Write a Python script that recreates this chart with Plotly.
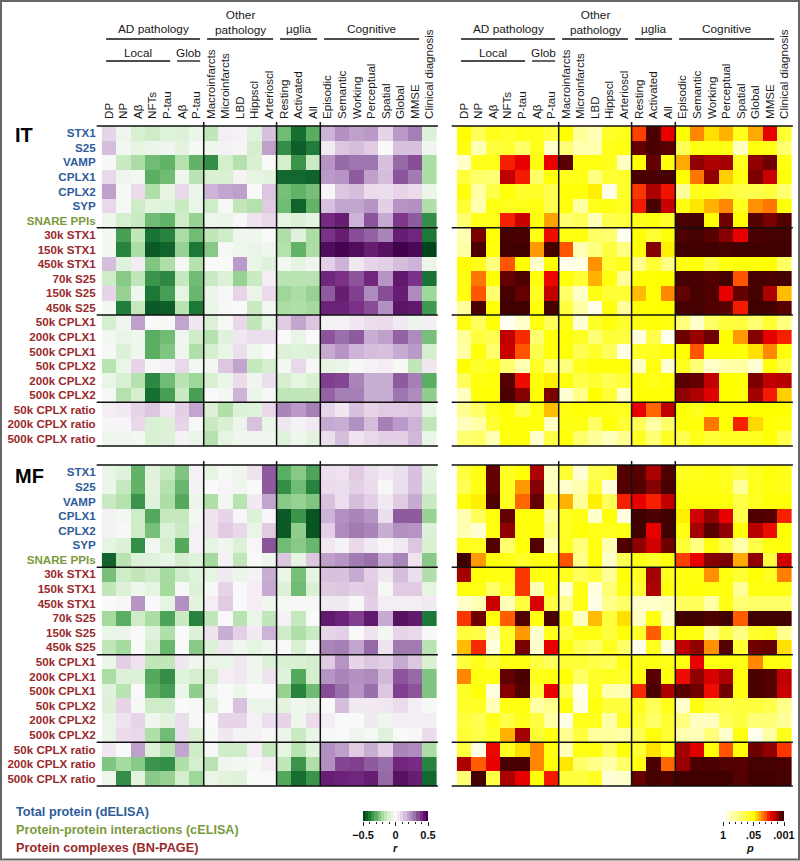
import plotly.graph_objects as go

W, H = 800, 861
FONT = "Liberation Sans"

columns = ["DP", "NP", "Aβ", "NFTs", "P-tau", "Aβ", "P-tau", "Macroinfarcts", "Microinfarcts", "LBD",
           "Hippscl", "Arterioscl", "Resting", "Activated", "All", "Episodic", "Semantic", "Working",
           "Perceptual", "Spatial", "Global", "MMSE", "Clinical diagnosis"]
rows = ["STX1", "S25", "VAMP", "CPLX1", "CPLX2", "SYP", "SNARE PPIs", "30k STX1", "150k STX1", "450k STX1",
        "70k S25", "150k S25", "450k S25", "50k CPLX1", "200k CPLX1", "500k CPLX1", "50k CPLX2", "200k CPLX2",
        "500k CPLX2", "50k CPLX ratio", "200k CPLX ratio", "500k CPLX ratio"]
row_groups = ["t"] * 6 + ["i"] + ["c"] * 15

# correlation r x 100
it_r = [
    [10,-3,-10,-12,-8,-9,-4, -15,3,2,-8,14, -27,-42,-30, 17,24,21,22,10,22,27,-9],
    [15,-2,-6,-4,-3,-7,-1, -3,2,1,-11,21, -36,-45,-39, 4,13,15,12,0,14,14,-3],
    [-1,-13,-19,-27,-29,-17,-29, -36,-11,-17,-10,0, -11,-35,-13, 23,31,29,29,14,31,35,-19],
    [9,-3,-2,-30,-27,-3,-16, -10,-10,2,-6,-7, -43,-43,-44, 22,23,33,21,15,34,28,-19],
    [21,-1,8,-18,-6,9,-4, 17,20,21,0,13, -26,-29,-26, 1,13,15,8,7,10,8,-4],
    [9,-1,-12,-7,-8,-13,-5, -12,-1,-15,-17,12, -27,-44,-29, 14,20,20,23,11,23,24,-18],
    [-3,-11,-13,-27,-29,-12,-22, -3,-4,-1,6,9, -6,-9,-6, 40,43,17,34,19,38,33,-36],
    [-2,-33,-15,-41,-38,-19,-27, -15,-12,-3,-3,0, -18,-8,-19, 39,43,35,32,26,43,41,-40],
    [-2,-38,-19,-46,-44,-22,-40, -24,-1,-3,-5,-3, -17,-29,-19, 47,49,47,43,46,50,48,-50],
    [15,-8,3,-25,-18,-1,-17, 0,0,22,-5,-8, -2,-6,-3, 11,17,5,10,11,15,17,-4],
    [-12,-24,-15,-35,-37,-14,-27, -13,-9,-22,-13,3, -16,-16,-16, 41,39,34,41,23,44,39,-41],
    [10,-22,-3,-40,-33,-6,-28, -4,-1,10,-4,8, -21,-19,-22, 33,43,37,25,35,43,25,-21],
    [-2,-39,-14,-46,-45,-16,-40, -5,-1,0,-13,-2, -19,-18,-20, 42,42,39,35,24,45,44,-34],
    [-11,-3,21,0,-1,20,5, -9,-1,9,-15,-5, 12,20,13, 2,2,5,7,8,4,-4,3],
    [-2,-5,-3,-30,-27,-3,-12, -17,-8,5,7,7, 0,-5,0, 34,30,33,18,21,32,25,-26],
    [-1,-9,-3,-30,-25,-3,-18, -11,-5,7,-3,0, -9,-8,-9, 19,23,17,15,14,19,22,-11],
    [-16,-5,10,-1,2,9,-2, -2,13,20,-14,-11, -2,9,-1, -6,-4,-1,2,3,-1,-15,5],
    [-5,-10,-17,-37,-27,-16,-21, -10,-5,8,-3,7, -11,-6,-10, 37,36,26,18,18,33,27,-30],
    [-1,-17,-11,-42,-33,-13,-33, 0,-2,17,-4,-1, -15,-15,-15, 32,27,27,18,18,29,25,-23],
    [3,4,10,13,5,11,20, -9,-18,-9,-8,9, 26,22,27, 10,5,14,10,12,12,13,-6],
    [1,1,9,-10,-9,10,-1, -13,-10,-4,14,-5, 5,2,4, 19,18,24,15,27,22,17,-15],
    [-3,-3,-2,-10,-9,2,-5, -17,-6,-3,-3,-3, -8,-3,-7, 7,15,6,9,11,11,16,-5],
]
mf_r = [
    [-5,-8,-29,-8,-14,-25,2, -6,-1,-3,6,33, -30,-24,-32, 7,6,12,7,4,7,14,-7],
    [-4,-14,-29,-7,-17,-28,2, 0,1,-3,0,33, -36,-27,-38, 8,7,11,8,-1,7,14,-8],
    [-13,-17,-35,-8,-19,-31,-4, -18,-2,-16,4,20, -24,-22,-25, 14,7,15,11,4,12,19,-13],
    [2,-2,-12,-31,-14,-14,-2, 6,10,1,-9,1, -46,-35,-47, 17,24,26,23,7,33,33,-22],
    [2,-1,-12,-26,-9,-13,2, 6,12,9,-5,12, -46,-23,-47, 11,25,28,26,18,24,23,-9],
    [-6,-9,-36,-2,-11,-31,2, -6,-3,-9,1,34, -27,-24,-28, 5,2,9,4,1,4,13,-10],
    [-44,-16,-9,-8,-5,-11,-8, -20,2,-15,0,-3, 13,-6,13, 21,23,28,30,19,26,6,-24],
    [-26,-12,-15,-12,-20,-12,-8, -6,4,-4,2,18, -5,-26,-6, 14,14,19,11,5,15,7,-18],
    [-15,-9,-3,-6,-20,-1,-9, -1,10,0,3,19, -9,-27,-10, 12,13,11,12,-1,12,12,-6],
    [0,-1,23,0,-6,24,-7, 3,12,0,3,-3, -1,-1,-1, 4,4,-1,11,3,3,3,4],
    [-20,-30,-12,-19,-32,-13,-38, -15,0,-16,-5,-15, 2,-14,0, 44,42,37,44,19,46,44,-40],
    [-5,-4,0,-8,-18,0,-9, 6,18,11,4,17, -12,-18,-13, 10,11,0,6,-2,10,9,-1],
    [-15,-20,0,-11,-28,0,-24, -9,5,-3,-6,-3, 0,-10,-1, 26,27,20,31,6,28,28,-16],
    [-4,11,6,-15,-15,5,-3, -5,-5,5,-3,-9, -10,-10,-11, 12,23,10,13,11,19,13,-10],
    [-19,-9,-9,-31,-36,-8,-11, -11,3,5,-3,6, -8,-31,-11, 23,26,24,25,16,34,31,-25],
    [-8,-16,0,-29,-33,-4,-23, -3,0,-3,0,0, -22,-38,-27, 35,30,23,30,13,37,34,-25],
    [-9,10,-1,-12,-12,0,-1, -9,0,14,-4,-4, -7,-3,-5, 0,15,4,4,5,8,3,-1],
    [-5,6,10,-3,-7,7,-1, 0,10,10,2,7, 10,-3,8, 3,0,0,4,-3,3,3,3],
    [-5,8,9,-18,-27,7,-10, -1,5,2,2,-1, -4,-13,-5, -1,0,-3,-1,-8,0,-1,8],
    [5,0,21,-9,-16,20,-12, -1,-12,-12,3,-14, -6,-16,-8, 24,21,12,18,11,26,25,-19],
    [-25,-20,-24,-35,-36,-18,-11, -16,-3,-2,-1,3, -15,-35,-18, 24,36,37,33,30,41,40,-38],
    [-3,-36,-7,-24,-22,-11,-21, -5,-7,-8,0,0, -31,-42,-35, 43,42,41,43,31,46,43,-43],
]
# significance on the colour bar's own scale: 0 is p=1, 5 is p=.05, 10 is p=.001
it_p = [
    [5,3.3,4.5,4.2,4.5,4.5,3.8, 5,2,1.5,4.2,4.5, 7.2,9.8,8, 5,6.4,5.4,5.9,4.5,6,8,4],
    [4.7,1.5,3.8,4,3,4.5,1, 2.7,1.6,1.6,4.5,4.7, 9.4,9.8,9.5, 3.3,4.6,4.6,4.6,1.2,4.7,4.5,2.8],
    [1,4.5,4.5,7.5,8,4.7,8, 9.5,4.7,4.7,4.4,1.2, 5,9.4,4.7, 6,9,8.7,8.8,4.4,9,9.3,4.7],
    [3.8,3,2.7,8.5,7.6,3,4.8, 4.5,4.5,2.5,4,4.2, 9.8,9.8,9.9, 5,6.6,9,5.6,4.7,9.2,8.4,4.8],
    [4.8,1.8,3.6,4.8,4.1,4.2,3.5, 4.8,4.8,5.2,0.5,4.2, 7.3,8.7,7.7, 2,4.5,4.5,3.9,3.6,3.5,3.8,2.8],
    [4,1.6,4.6,4.4,4.5,4.7,3.5, 4.8,1.8,4.5,4.6,4.3, 7.6,9.9,8.4, 4.7,5.3,5.9,6.4,4.4,6.3,6.6,4.8],
    [2.8,4.5,4.5,7.5,8.4,4.7,6.1, 2.8,3.3,1.4,3.5,3.8, 4.5,4.6,4.2, 9.8,9.9,5,9.3,5,9.6,9.2,9.6],
    [1.5,9.2,4.9,9.9,9.8,4.6,7.8, 4.7,4.7,3,2.9,0.3, 4.8,4,4.8, 9.7,9.9,9.5,9.1,8,9.8,9.9,9.9],
    [1.8,9.8,4.8,10,10,6.2,9.9, 7,1.5,2.5,3.7,2.5, 4.8,9.1,5.2, 10,10,10,9.9,10,10,10,10],
    [5,4.5,2.5,7,5,1,5, 0.4,0.6,6.3,4,4.5, 2.2,4,2.4, 4.6,4.8,3.8,4.7,4.8,4.8,5,3],
    [4.6,6.6,4.9,9.4,9.7,4.8,7.9, 4.8,4,5.9,4.7,2, 4.9,4.9,5, 9.9,9.8,9.6,9.9,7,9.9,9.8,9.9],
    [4.7,7,2.8,9.9,9.4,4.3,8.5, 3,1,4.6,4,4, 5.8,4.9,6.4, 9.4,9.9,9.7,8,9.4,9.9,8.7,5.8],
    [2,9.8,4.9,10,10,4.9,9.9, 3.8,1.7,0.4,4.7,2, 4.9,4.9,5, 9.9,9.9,9.7,9.5,7.6,10,10,9.5],
    [4.7,3.2,4.9,0.2,1,4.7,3.3, 4.6,0.8,4.2,4.7,4.1, 4.6,4.9,4.6, 2.6,1,3,3.8,3.8,2.8,4,2.5],
    [2,3.8,3.4,8.5,7.4,2.8,4.8, 4.9,4.3,2.7,3.9,3.7, 0.6,3.6,0.3, 9.3,8.9,9.3,5,6.2,9.1,8,7.5],
    [1.8,4.8,2.9,8.4,7,3.5,4.9, 4.9,3.4,4.2,3.2,0.5, 4.3,4.4,4.8, 5,7,5,5,4.8,5.4,6.4,4.8],
    [5,4.1,4.5,2.9,1.5,4.2,2.5, 2.5,4.5,4.8,4.8,4.8, 1.2,4.8,0.8, 4.4,2.7,1,1.6,1.8,0.8,4.9,3.6],
    [3.2,4.7,4.8,9.6,7.8,4.9,5.2, 4.7,3.6,4,3.4,3.9, 4.8,4.5,4.8, 9.5,9.4,8.5,5,4.9,9.2,8.5,8.6],
    [1.2,4.9,4.9,9.8,9.1,5,9.2, 0.8,2.3,5,3.9,1, 4.9,4.9,4.9, 9,8.7,8.1,5,4.9,8.8,7.6,5.6],
    [2.2,3,4.4,4.8,3.5,4.6,5.8, 4.6,4.9,4.7,4.5,4.4, 8,6.8,8.5, 4.9,4.4,4.9,4.9,5,5,5,5],
    [1.3,1.8,4,4.8,4.8,4.8,1.2, 4.6,4.6,3,4.9,4, 3.3,1.8,2.9, 4.8,4.8,6.6,4.9,7.5,5.5,4.9,4.7],
    [2.8,3,1.5,4.8,4.8,1,3.6, 4.9,2.9,2,1.3,2.2, 4.3,2.7,4.3, 3.5,4.5,3.9,4.3,4.3,4.4,4.9,3.5],
]
mf_p = [
    [3.8,4.6,9.4,4.3,4.9,8.7,1.3, 4,0.8,3.4,3.7,9.6, 9.5,8.7,9.7, 4.4,4.5,4.7,4.4,3.7,4.4,4.8,4.5],
    [3.4,4.6,9.4,4.3,6.2,9.1,1.3, 1,1.6,3.8,0.7,9.6, 9.6,9.1,9.8, 4.6,4.7,4.7,4.4,2,4.4,4.7,4.5],
    [4.8,5.2,9.7,4.4,6.8,9.4,3.4, 5.9,2,5.2,3.2,7.5, 8,7.5,8.5, 4.8,4.8,4.8,4.8,3.6,4.4,4.8,4.9],
    [1.5,3.3,4.8,9.4,4.8,4.8,2, 4.3,4.6,1,4.8,0.6, 10,9.8,10, 5.2,8.3,9,8,3.5,9.7,9.6,7.5],
    [1.5,0.9,4.7,9,4.7,4.8,2.5, 4.3,4.8,4.5,4.4,4.6, 10,8,10, 4.6,8.8,9.5,9,4.9,8.6,7.8,4.9],
    [4.5,4.4,9.6,2.9,4.8,9.6,1.5, 4.4,2.6,4.7,1.5,9.7, 9,8.3,9.3, 3.9,2.5,4.7,3.4,1.6,3.6,4.6,4.8],
    [10,6.2,4.9,4.6,4.2,4.6,4.7, 7,2.3,4.9,1,3.4, 4.6,4.2,4.7, 7.2,8,9.1,9.2,6,9,3.7,8.3],
    [8.8,4.8,4.7,4.7,7.3,4.7,4.7, 4.4,3.3,3.8,2,4.8, 4.3,8.8,4.4, 4.7,4.7,6.3,4.7,4,4.9,4.3,6.5],
    [4.8,4.6,3,4.3,7.3,1.5,4.6, 0.7,4.6,0.6,2.7,4.6, 3.9,8.7,4.7, 4.7,4.8,4.7,4.7,2,4.6,4.7,4.6],
    [1,1.5,8.4,1.4,3.8,8.2,3.7, 2.3,4.6,0.5,2.3,3, 1,1,1.3, 3.1,3.3,1.7,4.6,2.7,3,3,3],
    [7.3,9.3,4.8,6.9,9.6,4.7,9.8, 4.7,1.2,5.8,3.8,5.4, 1.2,4.7,1, 10,10,9.7,10,6.9,10,10,10],
    [3.8,3.6,1.2,4.2,6.2,1,4.5, 3.8,4.7,4.6,3.8,4.8, 4.2,6.9,4.6, 4.7,4.6,1.9,3.7,2.4,4.1,4.4,2.2],
    [5.8,7.4,0.7,4.4,9.2,1,8, 4.7,3.5,3,4.4,3, 0.4,4.4,0.8, 8.5,9,6.3,9.6,4,9.3,9.4,5.4],
    [3.8,4.5,3.8,4.6,4.7,3.7,3.2, 3.9,3.9,3.6,3.3,4.6, 4.5,4.6,4.5, 4.7,8,4.7,4.8,4.6,6.4,4.7,4.7],
    [6.4,4.6,4.7,9.4,9.8,4.5,4.7, 4.9,3,4.2,4.4,4.2, 4.7,9.5,4.7, 7.8,9,8.2,8.7,4.7,9.8,9.6,8.5],
    [4.2,4.9,0.6,9.1,9.6,3.8,8, 3.5,0.4,4.3,1.6,1.5, 7.4,9.8,8.7, 9.5,9.3,7.8,9.3,4.7,9.8,9.6,8.4],
    [4.2,4.3,1.4,4.7,4.7,1.7,2.2, 4.7,0.5,4.7,3.8,3.7, 4.4,3.3,4.5, 1,4.8,3.8,3.6,3.8,3.8,3.5,2.3],
    [3.8,3.4,4.5,3.6,4.5,3.7,1.8, 0.5,4.5,4.4,1.7,4.3, 4,3,4, 2.5,1.2,1.2,3.3,3.7,2.7,2.7,2],
    [4,3.6,4.2,5.9,8.8,4,4.7, 2.2,3.8,1.9,1.9,1.7, 3.4,4.8,4, 1.6,1.4,2.6,1,4.7,0.4,1.8,4.5],
    [3.8,0.5,7.9,4.4,5.4,6.4,4.7, 1.4,4.6,4.7,3.1,4.8, 4,5.4,4.6, 8.8,8.1,4.8,7,4.9,9.3,9,7.3],
    [8.7,6.9,8,9.8,9.8,6.4,4.8, 5.3,3,2.3,1.7,3, 4.7,9.8,6.8, 8.9,9.8,9.8,9.6,9.5,9.9,9.9,9.8],
    [2.7,9.9,3.6,8.7,8,4.9,7.6, 3.8,3.7,4.3,0.8,1, 9.4,9.9,9.7, 10,10,10,10,9.6,10,10,9.9],
]
for m in (it_r, mf_r, it_p, mf_p):
    assert len(m) == 22 and all(len(r) == 23 for r in m)

r_bar = [-50, -45, -40, -35, -30, -25, -20, -15, -10, -5, 0, 5, 10, 15, 20, 25, 30, 35, 40, 45, 50]
p_bar = [0, 0.5, 1, 1.5, 2, 2.5, 3, 3.5, 4, 4.5, 5, 5.5, 6, 6.5, 7, 7.5, 8, 8.5, 9, 9.5, 10]

r_scale = [[0, "#00441b"], [.1, "#1b7837"], [.2, "#5aae61"], [.3, "#a6dba0"], [.4, "#d9f0d3"], [.5, "#f9f9f9"],
           [.6, "#e7d4e8"], [.7, "#c2a5cf"], [.8, "#9970ab"], [.9, "#762a83"], [1, "#40004b"]]
p_scale = [[0, "#ffffff"], [.5, "#ffff00"], [.55, "#ffd800"], [.6, "#ffaa00"], [.7, "#ff5500"], [.75, "#f52000"],
           [.8, "#e80000"], [.85, "#c00000"], [.9, "#900000"], [.95, "#580000"], [1, "#400000"]]

BLUE, OLIVE, RED = "#2f5c9b", "#7b9a3c", "#9a2a2c"
row_color = {"t": BLUE, "i": OLIVE, "c": RED}
row_text = [f"<b><span style='color:{row_color[g]}'>{n}</span></b>" for n, g in zip(rows, row_groups)]

# panel rectangles in pixels
LEFT_X, RIGHT_X = (101.7, 436.9), (456.7, 791.9)
IT_Y, MF_Y = (126, 446), (465, 786)
CW = (LEFT_X[1] - LEFT_X[0]) / 23


def px(x):
    return x / W


def py(y):
    return 1 - y / H


fig = go.Figure()
panels = [(it_r, LEFT_X, IT_Y, r_scale, -50, 50, True, True),
          (it_p, RIGHT_X, IT_Y, p_scale, 0, 10, True, False),
          (mf_r, LEFT_X, MF_Y, r_scale, -50, 50, False, True),
          (mf_p, RIGHT_X, MF_Y, p_scale, 0, 10, False, False)]
layout = {}
shapes = []
ann = []


def hline(x0, x1, y, w=1.5, c="#111111"):
    shapes.append(dict(type="line", xref="paper", yref="paper", x0=px(x0), x1=px(x1), y0=py(y), y1=py(y),
                       line=dict(color=c, width=w)))


def vline(x, y0, y1, w=1.5, c="#111111"):
    shapes.append(dict(type="line", xref="paper", yref="paper", x0=px(x), x1=px(x), y0=py(y0), y1=py(y1),
                       line=dict(color=c, width=w)))


for k, (z, xr, yr, scale, zmin, zmax, toplabels, rowlabels) in enumerate(panels, start=1):
    s = "" if k == 1 else str(k)
    fig.add_trace(go.Heatmap(z=z, colorscale=scale, zmin=zmin, zmax=zmax, showscale=False,
                             xaxis="x" + s, yaxis="y" + s, hoverinfo="skip"))
    layout["xaxis" + s] = dict(
        domain=[px(xr[0]), px(xr[1])], range=[-0.5, 22.5], anchor="y" + s, side="top", showgrid=False, zeroline=False,
        automargin=False,
        tickmode="array", tickvals=list(range(23)) if toplabels else [], ticktext=columns if toplabels else [],
        tickangle=-90, ticks="", ticklabelstandoff=6, tickfont=dict(family=FONT, size=11.6, color="#1a1a1a"))
    layout["yaxis" + s] = dict(
        domain=[py(yr[1]), py(yr[0])], range=[21.5, -0.5], anchor="x" + s, showgrid=False, zeroline=False,
        automargin=False,
        tickmode="array", tickvals=list(range(22)) if rowlabels else [], ticktext=row_text if rowlabels else [],
        ticks="", ticklabelstandoff=5, tickfont=dict(family=FONT, size=11.6))
    rh = (yr[1] - yr[0]) / 22
    for r in (0, 7, 13, 19, 22):
        hline(xr[0] - 5, xr[1] + 1, yr[0] + r * rh)
    for c in (7, 12, 15):
        vline(xr[0] + c * CW, yr[0] - 4, yr[1])

# column group headers, in column units
headers = [("AD pathology", -0.2, 6.25, 29, 39), ("Other<br>pathology", 6.73, 11.26, 22.5, 39),
           ("µglia", 11.74, 14.28, 29, 39), ("Cognitive", 14.76, 21.28, 29, 39),
           ("Local", -0.2, 4.19, 53, 61), ("Glob", 4.67, 6.25, 53, 61)]
for xr in (LEFT_X, RIGHT_X):
    for text, c0, c1, ty, ly in headers:
        a = xr[0] + (c0 + .5) * CW
        b = xr[0] + (c1 + .5) * CW
        hline(a, b, ly, w=1.3)
        ann.append(dict(text=text, x=px((a + b) / 2), y=py(ty), xref="paper", yref="paper", showarrow=False,
                        xanchor="center", yanchor="middle", font=dict(family=FONT, size=11.8, color="#1a1a1a")))

ann.append(dict(text="<b>IT</b>", x=px(13), y=py(135), xref="paper", yref="paper", showarrow=False, xanchor="left",
                yanchor="middle", font=dict(family=FONT, size=20, color="#000000")))
ann.append(dict(text="<b>MF</b>", x=px(13), y=py(476), xref="paper", yref="paper", showarrow=False, xanchor="left",
                yanchor="middle", font=dict(family=FONT, size=20, color="#000000")))

for text, color, y in [("Total protein (dELISA)", BLUE, 812), ("Protein-protein interactions (cELISA)", OLIVE, 830),
                       ("Protein complexes (BN-PAGE)", RED, 848)]:
    ann.append(dict(text=f"<b>{text}</b>", x=px(14), y=py(y), xref="paper", yref="paper", showarrow=False,
                    xanchor="left", yanchor="middle", font=dict(family=FONT, size=12.7, color=color)))

# colour bars
bars = [(r_bar, r_scale, -50, 50, (363, 428), [-50, 0, 50], ["<b>−0.5</b>", "<b>0</b>", "<b>0.5</b>"], 10, "r", 395),
        (p_bar, p_scale, 0, 10, (723, 784), [0, 5, 10], ["<b>1</b>", "<b>.05</b>", "<b>.001</b>"], 1, "p", 750)]
for k, (vals, scale, zmin, zmax, xr, tv, tt, minor, name, name_x) in enumerate(bars, start=5):
    s = str(k)
    fig.add_trace(go.Heatmap(z=[vals], x=vals, colorscale=scale, zmin=zmin, zmax=zmax, showscale=False,
                             xaxis="x" + s, yaxis="y" + s, hoverinfo="skip"))
    layout["xaxis" + s] = dict(
        domain=[px(xr[0]), px(xr[1])], range=[zmin, zmax], anchor="y" + s, side="bottom", showgrid=False,
        zeroline=False, automargin=False, tickmode="array", tickvals=tv, ticktext=tt, ticks="outside", ticklen=4,
        tickwidth=1, tickcolor="#222222", tickfont=dict(family=FONT, size=11, color="#111111"),
        minor=dict(ticks="outside", ticklen=2, tickwidth=1, tickcolor="#222222", dtick=minor, showgrid=False))
    layout["yaxis" + s] = dict(domain=[py(821), py(811)], anchor="x" + s, showticklabels=False, showgrid=False,
                               zeroline=False, ticks="", automargin=False)
    ann.append(dict(text=f"<b><i>{name}</i></b>", x=px(name_x), y=py(848), xref="paper", yref="paper",
                    showarrow=False, xanchor="center", yanchor="middle",
                    font=dict(family=FONT, size=11, color="#111111")))

# image frame
shapes.append(dict(type="rect", xref="paper", yref="paper", x0=px(1), x1=px(799), y0=py(859.5), y1=py(1),
                   line=dict(color="#666666", width=2), fillcolor="rgba(0,0,0,0)"))

fig.update_layout(width=W, height=H, margin=dict(l=0, r=0, t=0, b=0), paper_bgcolor="white", plot_bgcolor="white",
                  showlegend=False, shapes=shapes, annotations=ann, **layout)
fig.write_html("out.html", config={"displayModeBar": False},
               post_script="document.body.style.margin='0';document.documentElement.style.overflow='hidden';")
